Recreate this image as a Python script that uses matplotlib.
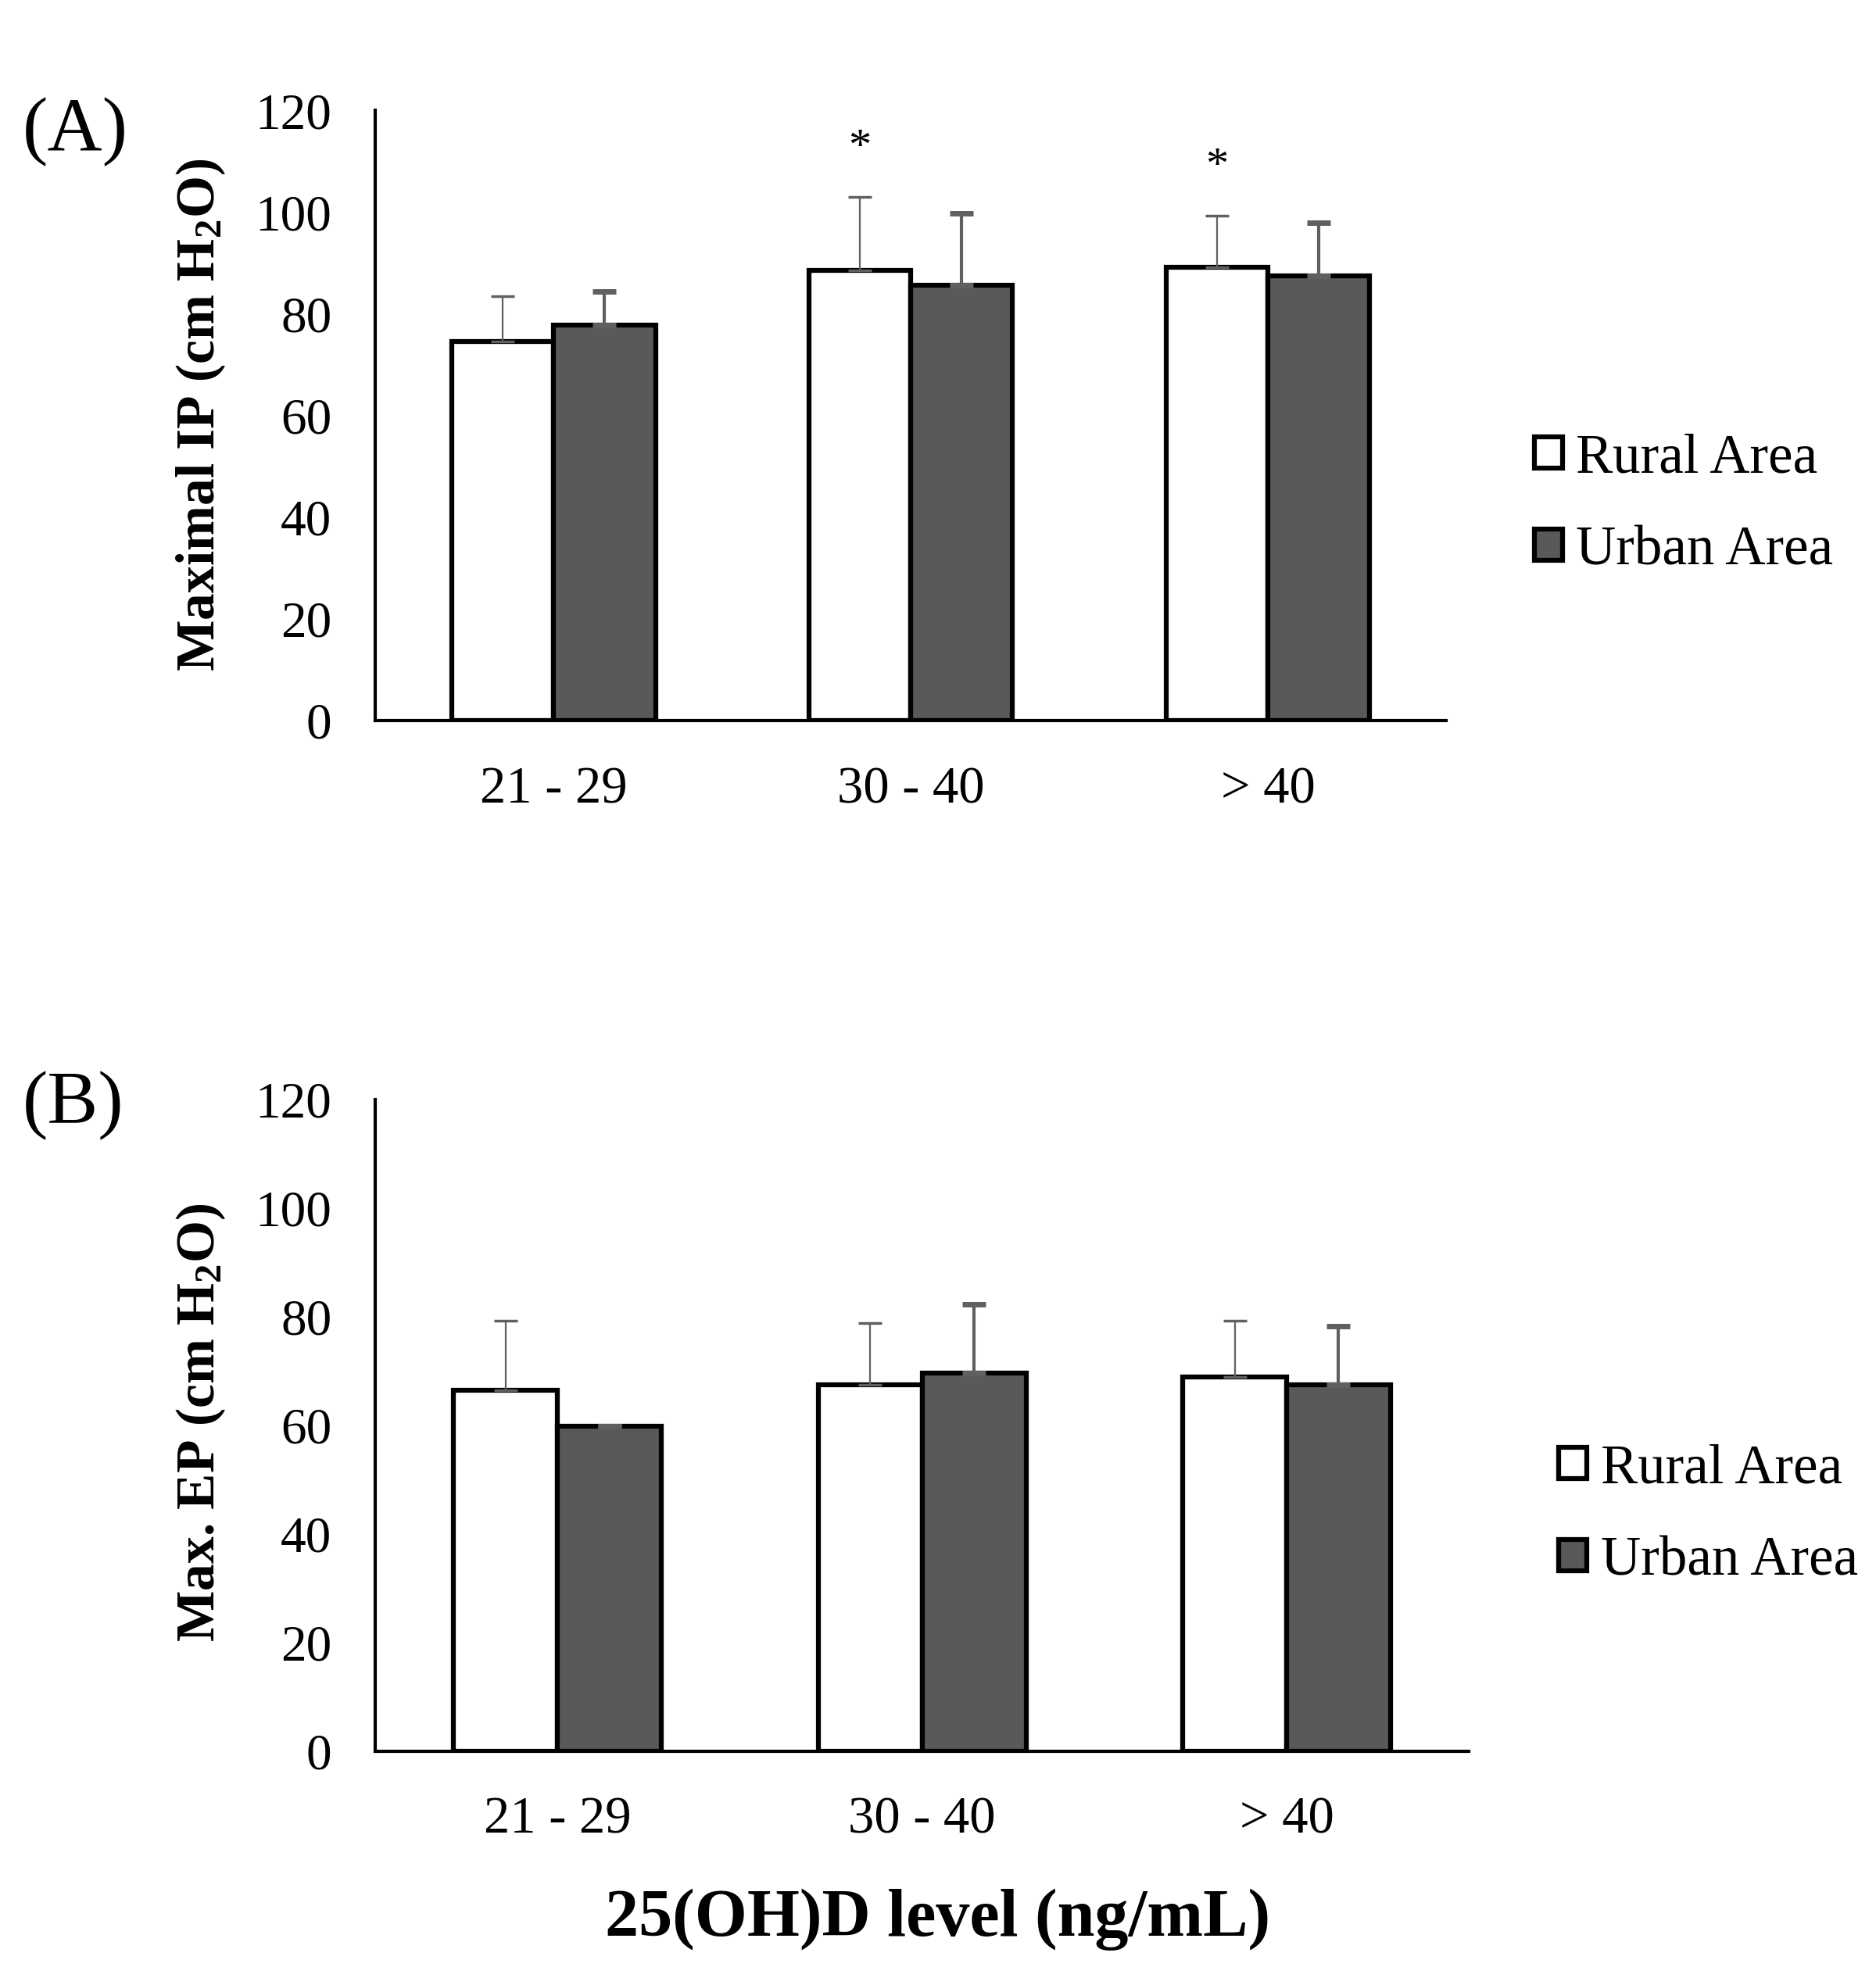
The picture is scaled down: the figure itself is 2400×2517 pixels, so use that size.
import numpy as np
import matplotlib
matplotlib.use("Agg")
import matplotlib.pyplot as plt

plt.rcParams['font.family'] = ['Liberation Serif', 'DejaVu Serif']
plt.rcParams['mathtext.fontset'] = 'custom'
plt.rcParams['mathtext.rm'] = 'Liberation Serif'
plt.rcParams['mathtext.bf'] = 'Liberation Serif:bold'

# data
groups = ['21 - 29', '30 - 40', '> 40']
series = ['Rural Area', 'Urban Area']

ip_rural = [74.5, 88.6, 89.1]
ip_rural_sd = [9.0, 14.4, 10.2]
ip_urban = [77.8, 85.7, 87.4]
ip_urban_sd = [6.6, 14.1, 10.6]
ip_star = [False, True, True]

ep_rural = [66.4, 67.5, 68.9]
ep_rural_sd = [12.9, 11.3, 10.4]
ep_urban = [59.9, 69.6, 67.5]
ep_urban_sd = [0.0, 12.7, 10.7]

URBAN = '#595959'
ERR = '#606060'
width = 0.285


def panel(ax, rural, rural_sd, urban, urban_sd, stars=None):
    x = np.arange(len(groups))
    ax.bar(x - width / 2, rural, width, color='white', edgecolor='black',
           linewidth=4.5, label=series[0], zorder=2)
    ax.bar(x + width / 2, urban, width, color=URBAN, edgecolor='black',
           linewidth=4.5, label=series[1], zorder=2)
    ax.errorbar(x - width / 2, rural, yerr=[np.zeros(3), rural_sd], fmt='none',
                ecolor=ERR, elinewidth=1.6, capsize=11, capthick=2.5, zorder=3)
    ax.errorbar(x + width / 2, urban, yerr=[np.zeros(3), urban_sd], fmt='none',
                ecolor=ERR, elinewidth=3, capsize=11, capthick=5, zorder=3)
    if stars:
        for i, s in enumerate(stars):
            if s:
                ax.text(x[i] - width / 2, rural[i] + rural_sd[i] + 5.5, '*',
                        ha='center', va='bottom', fontsize=42)
    ax.set_xlim(-0.5, 2.5)
    ax.set_ylim(0, 120)
    ax.set_yticks(range(0, 121, 20))
    ax.set_xticks(x)
    ax.set_xticklabels(groups)
    for s in ['top', 'right']:
        ax.spines[s].set_visible(False)
    for s in ['left', 'bottom']:
        ax.spines[s].set_linewidth(3)
    ax.tick_params(axis='y', length=0, pad=40, labelsize=47)
    ax.tick_params(axis='x', length=0, pad=42, labelsize=48)


fig = plt.figure(figsize=(24, 25.17), dpi=100)

ax1 = fig.add_axes([0.2, 0.6337, 0.571, 0.3101])
panel(ax1, ip_rural, ip_rural_sd, ip_urban, ip_urban_sd, ip_star)
ax2 = fig.add_axes([0.2, 0.1098, 0.583, 0.3312])
panel(ax2, ep_rural, ep_rural_sd, ep_urban, ep_urban_sd)

fig.text(0.107, 0.789, r'Maximal IP (cm $\mathbf{H_2O}$)', rotation=90,
         ha='center', va='center', fontsize=50, fontweight='bold')
fig.text(0.107, 0.277, r'Max. EP (cm $\mathbf{H_2O}$)', rotation=90,
         ha='center', va='center', fontsize=50, fontweight='bold')

fig.text(0.012, 0.933, '(A)', fontsize=70, ha='left', va='center')
fig.text(0.012, 0.438, '(B)', fontsize=70, ha='left', va='center')

for ax, anchor in [(ax1, (0.818, 0.7434)), (ax2, (0.831, 0.2297))]:
    ax.legend(loc='center left', bbox_to_anchor=anchor,
              bbox_transform=fig.transFigure, frameon=False, fontsize=51,
              handlelength=0.5, handleheight=0.5, handletextpad=0.25,
              labelspacing=0.75, borderpad=0, borderaxespad=0)

fig.text(0.5, 0.024, '25(OH)D level (ng/mL)', ha='center', va='center',
         fontsize=62, fontweight='bold')

fig.savefig('out.png', dpi=100)
